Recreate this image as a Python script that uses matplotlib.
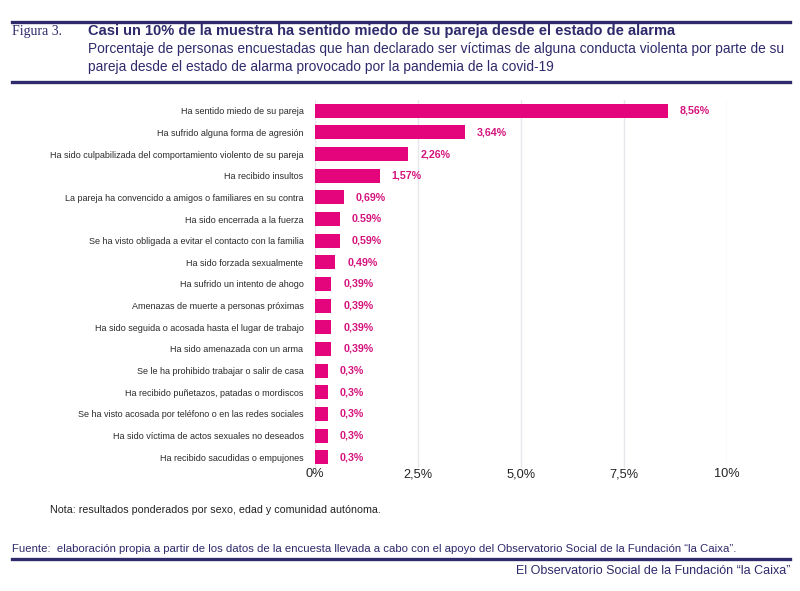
import matplotlib.pyplot as plt
from matplotlib.lines import Line2D

categorias = [
    "Ha sentido miedo de su pareja",
    "Ha sufrido alguna forma de agresión",
    "Ha sido culpabilizada del comportamiento violento de su pareja",
    "Ha recibido insultos",
    "La pareja ha convencido a amigos o familiares en su contra",
    "Ha sido encerrada a la fuerza",
    "Se ha visto obligada a evitar el contacto con la familia",
    "Ha sido forzada sexualmente",
    "Ha sufrido un intento de ahogo",
    "Amenazas de muerte a personas próximas",
    "Ha sido seguida o acosada hasta el lugar de trabajo",
    "Ha sido amenazada con un arma",
    "Se le ha prohibido trabajar o salir de casa",
    "Ha recibido puñetazos, patadas o mordiscos",
    "Se ha visto acosada por teléfono o en las redes sociales",
    "Ha sido víctima de actos sexuales no deseados",
    "Ha recibido sacudidas o empujones",
]
valores = [8.56, 3.64, 2.26, 1.57, 0.69, 0.59, 0.59, 0.49, 0.39, 0.39, 0.39, 0.39, 0.3, 0.3, 0.3, 0.3, 0.3]
etiquetas = ["8,56%", "3,64%", "2,26%", "1,57%", "0,69%", "0.59%", "0,59%", "0,49%",
             "0,39%", "0,39%", "0,39%", "0,39%", "0,3%", "0,3%", "0,3%", "0,3%", "0,3%"]
ticks = [0, 2.5, 5, 7.5, 10]
tick_labels = ["0%", "2,5%", "5,0%", "7,5%", "10%"]

fuente = ["Liberation Sans", "DejaVu Sans"]
navy = "#2e2a6b"
rosa = "#e4047c"

fig = plt.figure(figsize=(8, 5.91), dpi=100)
ax = fig.add_axes([0.394, 0.208, 0.515, 0.623])

y = list(range(len(categorias)))
ax.barh(y, valores, height=0.65, color=rosa)
for yi, v, t in zip(y, valores, etiquetas):
    ax.text(v + 0.29, yi, t, va="center", ha="left", fontsize=7.7, fontweight="bold",
            color="#d4137c", family=fuente)

ax.set_ylim(len(categorias) - 0.5, -0.5)
ax.set_xlim(0, 10)
ax.set_yticks(y)
ax.set_yticklabels(categorias, family=fuente, fontsize=6.45, color="#2a2a2a")
ax.set_xticks(ticks)
ax.set_xticklabels(tick_labels, fontsize=9.2, color="#222222", family=fuente)
ax.tick_params(length=0)
ax.tick_params(axis="y", pad=8.5)
ax.tick_params(axis="x", pad=0)
for s in ax.spines.values():
    s.set_visible(False)
ax.grid(axis="x", color="#e6e6ec", linewidth=1)
ax.set_axisbelow(True)

# cabecera
fig.add_artist(Line2D([12/800, 790/800], [1-22/591, 1-22/591], color=navy, lw=2.4))
fig.add_artist(Line2D([12/800, 790/800], [1-82/591, 1-82/591], color=navy, lw=2.4))
fig.text(12/800, 1-32/591, "Figura 3.", fontsize=10, color=navy, family="Liberation Serif", va="center")
fig.text(88/800, 1-31/591, "Casi un 10% de la muestra ha sentido miedo de su pareja desde el estado de alarma",
         fontsize=10.55, fontweight="bold", color=navy, family=fuente, va="center")
fig.text(88/800, 1-49/591, "Porcentaje de personas encuestadas que han declarado ser víctimas de alguna conducta violenta por parte de su",
         fontsize=9.9, color=navy, family=fuente, va="center")
fig.text(88/800, 1-67/591, "pareja desde el estado de alarma provocado por la pandemia de la covid-19",
         fontsize=9.9, color=navy, family=fuente, va="center")

# notas y fuente
fig.text(50/800, 1-510/591, "Nota: resultados ponderados por sexo, edad y comunidad autónoma.",
         fontsize=7.7, color="#222222", family=fuente, va="center")
fig.text(12/800, 1-549/591, "Fuente:  elaboración propia a partir de los datos de la encuesta llevada a cabo con el apoyo del Observatorio Social de la Fundación “la Caixa”.",
         fontsize=8.2, color=navy, family=fuente, va="center")
fig.add_artist(Line2D([12/800, 790/800], [1-559/591, 1-559/591], color=navy, lw=2.4))
fig.text(790/800, 1-571/591, "El Observatorio Social de la Fundación “la Caixa”",
         fontsize=9, color=navy, family=fuente, va="center", ha="right")

fig.savefig("out.png", dpi=100)
